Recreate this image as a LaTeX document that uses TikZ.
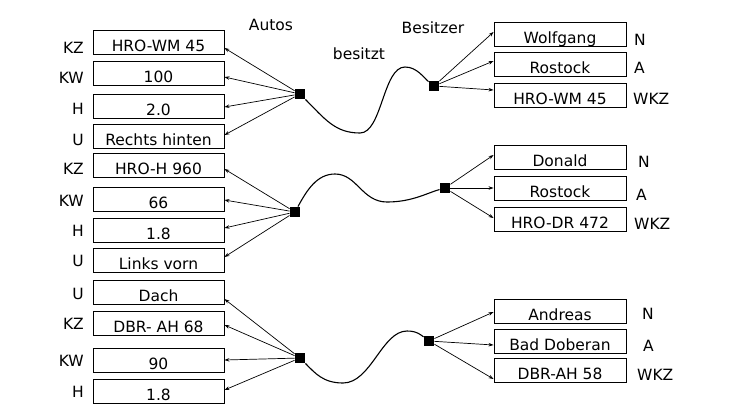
\documentclass[tikz,border=0pt]{standalone}
\usepackage{fontspec}
\setmainfont{DejaVu Sans}
\usetikzlibrary{arrows.meta}
\tikzset{
  box/.style={draw, line width=0.9pt, minimum width=131pt, minimum height=24pt, inner sep=0pt, text height=19.5pt, text depth=0.5pt, font=\fontsize{15.5}{18}\selectfont},
  lab/.style={inner sep=0pt, text height=12pt, text depth=0.6pt, font=\fontsize{15.5}{18}\selectfont},
  junc/.style={fill=black, minimum size=10.5pt, inner sep=0pt},
  link/.style={line width=0.7pt, -{Stealth[length=5pt,width=3.5pt]}},
  wave/.style={line width=1.1pt},
}
\begin{document}
\begin{tikzpicture}[x=1pt, y=-1pt]
\useasboundingbox[fill=white] (0,0) rectangle (729,416);

% headings
\node[lab] (hAutos) at (271,25) {Autos};
\node[lab] (hBes) at (433,27.5) {Besitzer};
\node[lab] (hbes) at (359,54) {besitzt};

% left group 1
\node[box] (a1) at (158.5,42) {HRO-WM 45};
\node[box] (a2) at (158.5,73) {100};
\node[box] (a3) at (158.5,106) {2.0};
\node[box] (a4) at (158.5,136) {Rechts hinten};
\node[lab, anchor=east] (la1) at (84,47.5) {KZ};
\node[lab, anchor=east] (la2) at (84,77.5) {KW};
\node[lab, anchor=east] (la3) at (84,109) {H};
\node[lab, anchor=east] (la4) at (84,139.5) {U};

% left group 2
\node[box] (b1) at (158.5,165) {HRO-H 960};
\node[box] (b2) at (158.5,199) {66};
\node[box] (b3) at (158.5,230) {1.8};
\node[box] (b4) at (158.5,260) {Links vorn};
\node[lab, anchor=east] (lb1) at (84,169) {KZ};
\node[lab, anchor=east] (lb2) at (84,201) {KW};
\node[lab, anchor=east] (lb3) at (84,231) {H};
\node[lab, anchor=east] (lb4) at (84,261) {U};

% left group 3
\node[box] (c1) at (158.5,292) {Dach};
\node[box] (c2) at (158.5,323) {DBR- AH 68};
\node[box] (c3) at (158.5,360) {90};
\node[box] (c4) at (158.5,391) {1.8};
\node[lab, anchor=east] (lc1) at (84,294) {U};
\node[lab, anchor=east] (lc2) at (84,324) {KZ};
\node[lab, anchor=east] (lc3) at (84,361) {KW};
\node[lab, anchor=east] (lc4) at (84,392) {H};

% right group 1
\node[box, minimum width=132pt] (p1) at (560,34) {Wolfgang};
\node[box, minimum width=132pt] (p2) at (560,64) {Rostock};
\node[box, minimum width=132pt] (p3) at (560,95) {HRO-WM 45};
\node[lab, anchor=west] (lp1) at (634,40) {N};
\node[lab, anchor=west] (lp2) at (634,68) {A};
\node[lab, anchor=west] (lp3) at (633,99) {WKZ};

% right group 2
\node[box, minimum width=132pt] (q1) at (560,157) {Donald};
\node[box, minimum width=132pt] (q2) at (560,188) {Rostock};
\node[box, minimum width=132pt] (q3) at (560,219) {HRO-DR 472};
\node[lab, anchor=west] (lq1) at (638,162) {N};
\node[lab, anchor=west] (lq2) at (636,195) {A};
\node[lab, anchor=west] (lq3) at (634,224) {WKZ};

% right group 3
\node[box, minimum width=132pt] (r1b) at (560,311) {Andreas};
\node[box, minimum width=132pt] (r2b) at (560,341) {Bad Doberan};
\node[box, minimum width=132pt] (r3b) at (560,370) {DBR-AH 58};
\node[lab, anchor=west] (lr1) at (642,314) {N};
\node[lab, anchor=west] (lr2) at (643,346) {A};
\node[lab, anchor=west] (lr3) at (637,375) {WKZ};

% junctions
\node[junc] (j1) at (300,94) {};
\node[junc] (j2) at (295,212) {};
\node[junc] (j3) at (300,358) {};
\node[junc] (k1) at (434,86) {};
\node[junc] (k2) at (445,188) {};
\node[junc] (k3) at (429,341) {};

% wave helper coordinates
\coordinate (w1a) at (360,133);
\coordinate (w1b) at (405,67);
\coordinate (w2a) at (335,174);
\coordinate (w2b) at (387,202);
\coordinate (w3a) at (343,383);
\coordinate (w3b) at (407,331);

% waves
\draw[wave] (j1) .. controls +(25,25) and +(-25,0) .. (w1a)
  .. controls +(22,0) and +(-22,0) .. (w1b)
  .. controls +(12,0) and +(-10,-8) .. (k1);
\draw[wave] (j2) .. controls +(12,-22) and +(-18,0) .. (w2a)
  .. controls +(22,0) and +(-25,0) .. (w2b)
  .. controls +(25,0) and +(-18,5) .. (k2);
\draw[wave] (j3) .. controls +(15,15) and +(-20,0) .. (w3a)
  .. controls +(28,0) and +(-25,0) .. (w3b)
  .. controls +(10,0) and +(-8,-6) .. (k3);

% left arrows
\draw[link] (j1) -- ([yshift=-6pt]a1.east);
\draw[link] (j1) -- ([yshift=-4pt]a2.east);
\draw[link] (j1) -- ([yshift=-1pt]a3.east);
\draw[link] (j1) -- ([yshift=1pt]a4.east);
\draw[link] (j2) -- ([yshift=-4pt]b1.east);
\draw[link] (j2) -- ([yshift=-1pt]b2.east);
\draw[link] (j2) -- ([yshift=2pt]b3.east);
\draw[link] (j2) -- ([yshift=3pt]b4.east);
\draw[link] (j3) -- ([yshift=-7pt]c1.east);
\draw[link] (j3) -- ([yshift=-2pt]c2.east);
\draw[link] (j3) -- (c3.east);
\draw[link] (j3) -- ([yshift=1pt]c4.east);

% right arrows
\draw[link] (k1) -- ([yshift=2pt]p1.west);
\draw[link] (k1) -- ([yshift=3pt]p2.west);
\draw[link] (k1) -- ([yshift=5pt]p3.west);
\draw[link] (k2) -- ([yshift=2pt]q1.west);
\draw[link] (k2) -- (q2.west);
\draw[link] (k2) -- ([yshift=1pt]q3.west);
\draw[link] (k3) -- ([yshift=-1pt]r1b.west);
\draw[link] (k3) -- ([yshift=-4pt]r2b.west);
\draw[link] (k3) -- ([yshift=-9pt]r3b.west);
\end{tikzpicture}
\end{document}
